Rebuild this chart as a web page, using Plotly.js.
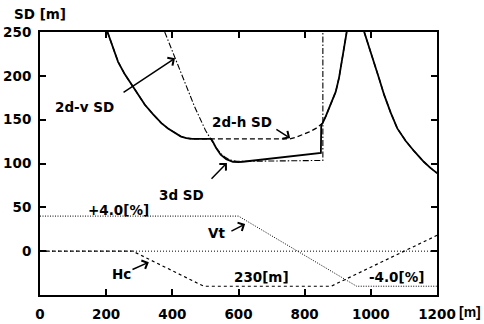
<!DOCTYPE html>
<html>
<head>
<meta charset="utf-8">
<script src="https://cdn.plot.ly/plotly-3.0.1.min.js"></script>
<style>html,body{margin:0;padding:0;background:#fff;}#chart{width:484px;height:324px;}</style>
</head>
<body>
<div id="chart"></div>
<script>
// 3d SD (solid)
var sd3dX = [204,220,236,256,276,296,317,342,367,387,407,425,442,460,518,532,546,563,583,600,613,673,733,790,849,850,854,864,874,884,894,904,909,914,919,925,927,null,980,995,1010,1025,1040,1060,1080,1105,1131,1160,1180,1200];
var sd3dY = [250,232,216,202,190,178,167,156,146,140,135,131,129,128,128,118,110,105,102,101.5,102,104.5,107,109.5,112,144,146,154,163,172,182,198,209,220,232,247,250,null,250,233,216.5,197,178.5,158,140,126,114,102,95,89];
// 2d-h SD (dashed)
var sd2hX = [204,220,236,256,276,296,317,342,367,387,407,425,442,460,518,600,700,754,774,794,814,834,849,854,864,874,884,894,904,909,914,919,925,927,null,980,995,1010,1025,1040,1060,1080,1105,1131,1160,1180,1200];
var sd2hY = [250,232,216,202,190,178,167,156,146,140,135,131,129,128,128,128,128,128,130,133,136,140,144,146,154,163,172,182,198,209,220,232,247,250,null,250,233,216.5,197,178.5,158,140,126,114,102,95,89];
// 2d-v SD (dash-dot)
var sd2vX = [377,400,432,467,500,518,530,545,560,575,595,620,700,800,855,855];
var sd2vY = [250,228,198,165,138,126,119,112,107,104,102.5,102.5,103,103.2,103.5,250];
// Vt (vertical grade, dotted)
var vtX = [0,600,957,1200];
var vtY = [40,40,-40,-40];
// Hc (horizontal curvature, dashed)
var hcX = [0,280,495,880,1200];
var hcY = [0,0,-40,-40,18];
// zero line
var zeroX = [0,1200];
var zeroY = [0,0];

var xTicks = [0,200,400,600,800,1000,1200];
var yTicks = [0,50,100,150,200,250];

var fontFam = 'DejaVu Sans, sans-serif';
var F = {family: fontFam, size: 13.5, color: '#000', weight: 'bold'};
var F2 = {family: 'Liberation Sans, Arial, sans-serif', size: 14, color: '#000', weight: 'bold'};

var traces = [
  {x: zeroX, y: zeroY, mode: 'lines', line: {color: '#000', width: 1, dash: '1px,2px'}},
  {x: vtX, y: vtY, mode: 'lines', line: {color: '#000', width: 1, dash: '1px,1.5px'}},
  {x: hcX, y: hcY, mode: 'lines', line: {color: '#000', width: 1.2, dash: '3px,3px'}},
  {x: sd2vX, y: sd2vY, mode: 'lines', line: {color: '#000', width: 1.1, dash: '6px,2px,1.5px,2px'}},
  {x: sd2hX, y: sd2hY, mode: 'lines', line: {color: '#000', width: 1.3, dash: '5px,3px'}},
  {x: sd3dX, y: sd3dY, mode: 'lines', line: {color: '#000', width: 1.8}, connectgaps: false}
];

function arrow(ax, ay, x, y) {
  return {xref: 'x', yref: 'y', axref: 'x', ayref: 'y', x: x, y: y, ax: ax, ay: ay,
    text: '', showarrow: true, arrowhead: 4, arrowsize: 1.2, arrowwidth: 1.5, arrowcolor: '#000'};
}
function label(t, x, y) {
  return {xref: 'x', yref: 'y', x: x, y: y, text: t, showarrow: false, font: F, xanchor: 'center', yanchor: 'middle'};
}

var annotations = [
  arrow(248, 180, 408, 220),
  arrow(710, 140, 756, 129),
  arrow(514, 81, 565, 100.6),
  arrow(574, 22, 620, 31),
  arrow(275, -21.7, 329, -12.6),
  label('2d-v SD', 136, 164),
  label('2d-h SD', 611, 147),
  label('3d SD', 429, 64),
  label('+4.0[%]', 236, 47),
  label('Vt', 532, 20.5),
  label('Hc', 245, -26),
  label('230[m]', 671, -29.7),
  label('-4.0[%]', 1079, -29.7),
  {xref: 'paper', yref: 'paper', x: -0.07, y: 1.0, yshift: 18, text: 'SD [m]', showarrow: false, font: F, xanchor: 'left', yanchor: 'middle'},
  {xref: 'paper', yref: 'paper', x: 1.0, y: 0, xshift: 33, yshift: -17, text: '[m]', showarrow: false, font: F2, xanchor: 'center', yanchor: 'middle'}
];

var layout = {
  width: 484, height: 324,
  margin: {l: 40, r: 47, t: 32, b: 29},
  paper_bgcolor: '#fff', plot_bgcolor: '#fff',
  showlegend: false,
  font: F,
  xaxis: {range: [0, 1200], tickvals: xTicks, ticktext: xTicks.map(String), ticks: 'inside', ticklen: 6, tickwidth: 2, tickcolor: '#000',
    showline: true, linewidth: 2, linecolor: '#000', mirror: 'ticks', showgrid: false, zeroline: false, tickfont: F, ticklabelstandoff: 6, fixedrange: true},
  yaxis: {range: [-50, 250], tickvals: yTicks, ticktext: yTicks.map(String), ticks: 'inside', ticklen: 6, tickwidth: 2, tickcolor: '#000',
    showline: true, linewidth: 2, linecolor: '#000', mirror: 'ticks', showgrid: false, zeroline: false, tickfont: F, ticklabelstandoff: 4, fixedrange: true},
  annotations: annotations
};

Plotly.newPlot('chart', traces, layout, {staticPlot: true, displayModeBar: false});
</script>
</body>
</html>
